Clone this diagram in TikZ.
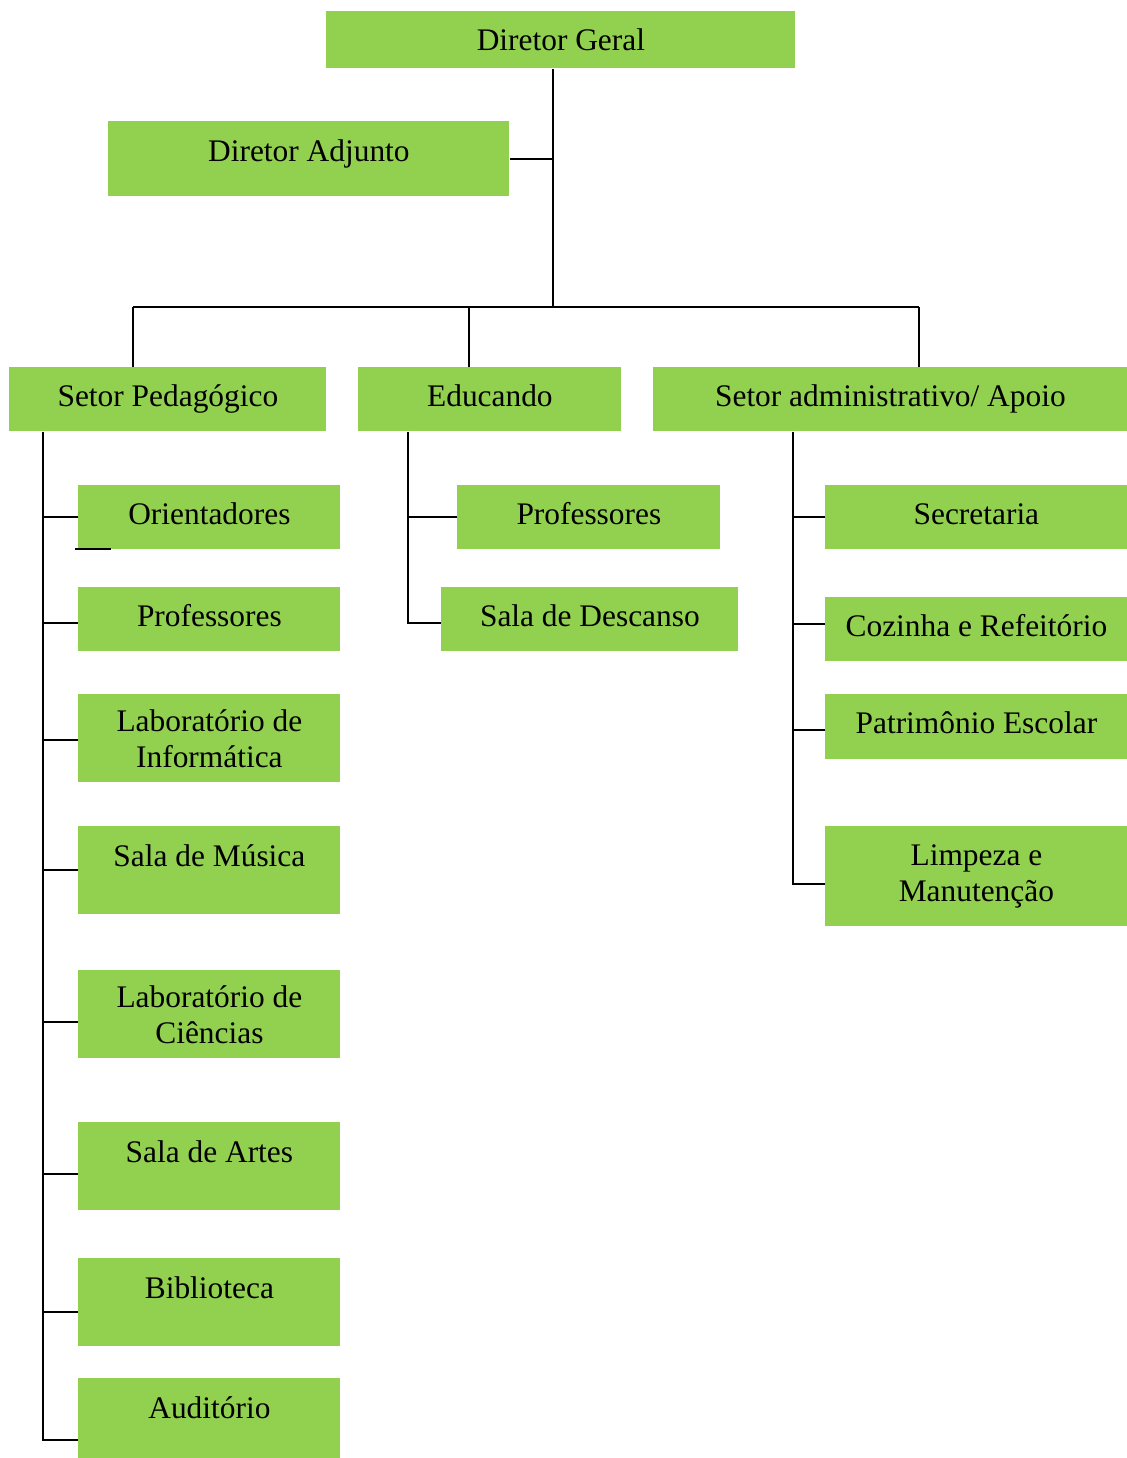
\documentclass[tikz,border=0pt]{standalone}
\usepackage{fontspec}
\setmainfont{Liberation Serif}
\definecolor{boxgreen}{HTML}{92D050}
\tikzset{
 box/.style={rectangle, fill=boxgreen, inner sep=0pt, align=center, anchor=north west,
   font=\fontsize{15.7}{18}\selectfont},
 single/.style={text height=11pt, text depth=#1},
 single/.default=4.2pt,
 link/.style={draw=black, line width=1pt},
}
\newcommand{\orgbox}[7][single]{%
 \node[box, minimum width=#5*0.5pt, minimum height=#6*0.5pt, #1] ({#2}) at ({#3},{#4}) {#7};%
}

\begin{document}
\begin{tikzpicture}[x=0.5pt,y=-0.5pt]
  \useasboundingbox (0,0) rectangle (1127,1458);
  % top
  \orgbox[single=0pt]{dg}{326}{11}{469}{57}{Diretor Geral};
  \orgbox[single=8.6pt]{adj}{108}{121}{401}{75}{Diretor Adjunto};
  % sectors
  \orgbox{ped}{9}{367}{317}{64}{Setor Pedagógico};
  \orgbox{edu}{358}{367}{263}{64}{Educando};
  \orgbox{adm}{653}{367}{474}{64}{Setor administrativo/ Apoio};
  % pedagogico
  \orgbox{ori}{78}{485}{262}{64}{Orientadores};
  \orgbox{prof1}{78}{587}{262}{64}{Professores};
  \orgbox[align=center]{labinf}{78}{694}{262}{88}{Laboratório de\\Informática};
  \orgbox[single=14.6pt]{musica}{78}{826}{262}{88}{Sala de Música};
  \orgbox[align=center]{labcien}{78}{970}{262}{88}{Laboratório de\\Ciências};
  \orgbox[single=14.6pt]{artes}{78}{1122}{262}{88}{Sala de Artes};
  \orgbox[single=14.6pt]{biblio}{78}{1258}{262}{88}{Biblioteca};
  \orgbox[single=10.6pt]{aud}{78}{1378}{262}{80}{Auditório};
  % educando
  \orgbox{prof2}{457}{485}{263}{64}{Professores};
  \orgbox{desc}{441}{587}{297}{64}{Sala de Descanso};
  % administrativo
  \orgbox{sec}{825}{485}{302}{64}{Secretaria};
  \orgbox{coz}{825}{597}{302}{64}{Cozinha e Refeitório};
  \orgbox{pat}{825}{694}{302}{65}{Patrimônio Escolar};
  \orgbox[align=center]{limp}{825}{826}{302}{100}{Limpeza e\\Manutenção};

  % trunk
  \coordinate (hub) at (553,307);
  \coordinate (barL) at (133,307);
  \coordinate (barM) at (469,307);
  \coordinate (barR) at (919,307);
  \draw[link] (dg.south -| hub) -- (hub);
  \draw[link] (adj.east) -- (adj.east -| hub);
  \draw[link] (barL) -- (barR);
  \draw[link] (barL) -- (barL |- ped.north);
  \draw[link] (barM) -- (barM |- edu.north);
  \draw[link] (barR) -- (barR |- adm.north);

  % left spine
  \coordinate (pedspine) at (43,1440);
  \draw[link] (ped.south -| pedspine) -- (pedspine) -- (pedspine -| aud.west);
  \foreach \n/\d in {ori/0, prof1/2, labinf/1, musica/0, labcien/4, artes/4, biblio/5}{
    \path ([yshift=-\d pt]\n.west) coordinate (tmp);
    \draw[link] (tmp) -- (tmp -| pedspine);
  }
  \draw[link] ([xshift=-1.5pt,yshift=0.5pt]ori.south west) -- ++(36,0);

  % middle spine
  \coordinate (eduspine) at (408,0);
  \draw[link] (edu.south -| eduspine) |- ([yshift=-2pt]desc.west);
  \draw[link] (prof2.west) -- (prof2.west -| eduspine);

  % right spine
  \coordinate (admspine) at (793,0);
  \draw[link] (adm.south -| admspine) |- ([yshift=-4pt]limp.west);
  \foreach \n/\d in {sec/0, coz/-2.5, pat/1.75}{
    \path ([yshift=-\d pt]\n.west) coordinate (tmp);
    \draw[link] (tmp) -- (tmp -| admspine);
  }
\end{tikzpicture}
\end{document}
